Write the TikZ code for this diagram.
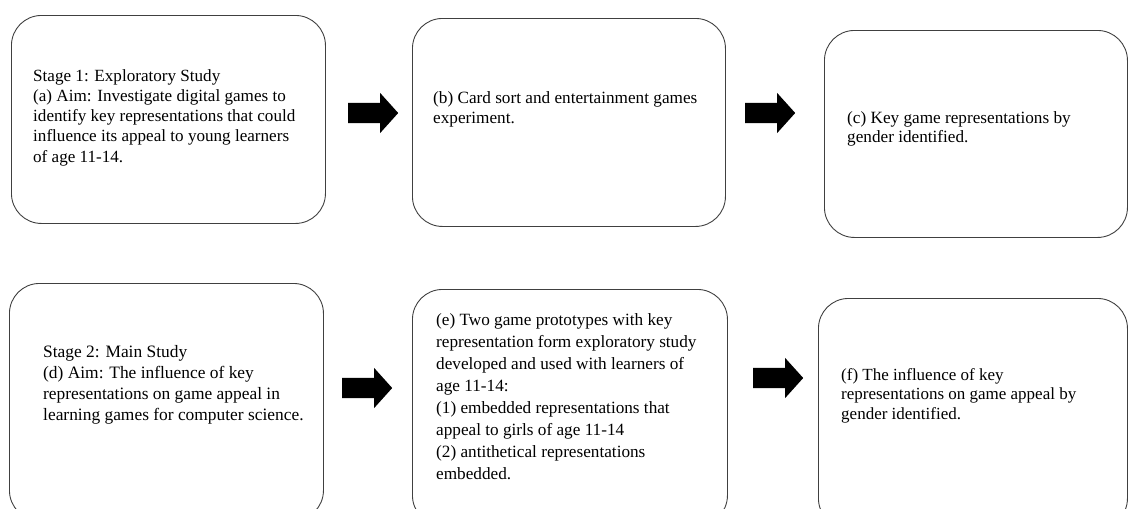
\documentclass[tikz,border=0pt]{standalone}
\usepackage{fontspec}
\setmainfont{Liberation Serif}
\usetikzlibrary{shapes.arrows, positioning}

\begin{document}
\begin{tikzpicture}[x=1pt, y=-1pt,
  box/.style={draw=black!75, line width=0.9pt, rounded corners=30pt, inner sep=0pt, anchor=north west},
  txt/.style={anchor=north west, align=left, inner sep=0pt},
  fatarrow/.style={single arrow, fill=black, draw=none, inner xsep=0pt, inner ysep=10pt,
    minimum height=50pt, single arrow head extend=10pt, single arrow tip angle=96, anchor=tail}]
  \useasboundingbox (0,0) rectangle (1128,509);
  \clip (0,0) rectangle (1128,509);

  % Stage 1
  \node[box, minimum width=314pt, minimum height=208pt] (a) at (11,15) {};
  \node[txt, font=\fontsize{17.1}{20.25}\selectfont] (ta) at (33,69) {Stage 1: Exploratory Study\\(a) Aim: Investigate digital games to\\identify key representations that could\\influence its appeal to young learners\\of age 11-14.};
  \node[box, minimum width=313pt, minimum height=208pt] (b) at (412,18) {};
  \node[txt, font=\fontsize{17.2}{20.5}\selectfont] (tb) at (433,91.1) {(b) Card sort and entertainment games\\experiment.};
  \node[box, minimum width=303pt, minimum height=207pt] (c) at (824,30) {};
  \node[txt, font=\fontsize{17.2}{19}\selectfont] (tc) at (847,111) {(c) Key game representations by\\gender identified.};

  % Stage 2
  \node[box, minimum width=314pt, minimum height=237pt] (d) at (9,283) {};
  \node[txt, font=\fontsize{17.4}{21.1}\selectfont] (td) at (43,345) {Stage 2: Main Study\\(d) Aim: The influence of key\\representations on game appeal in\\learning games for computer science.};
  \node[box, minimum width=315pt, minimum height=236pt] (e) at (412,289) {};
  \node[txt, font=\fontsize{17.2}{22.1}\selectfont] (te) at (436,313.1) {(e) Two game prototypes with key\\representation form exploratory study\\developed and used with learners of\\age 11-14:\\(1) embedded representations that\\appeal to girls of age 11-14\\(2) antithetical representations\\embedded.};
  \node[box, minimum width=309pt, minimum height=230pt] (f) at (818,298) {};
  \node[txt, font=\fontsize{17}{19.5}\selectfont] (tf) at (841,368) {(f) The influence of key\\representations on game appeal by\\gender identified.};

  % arrows
  \node[fatarrow] (ab) at (348,113) {};
  \node[fatarrow] (bc) at (745,113) {};
  \node[fatarrow] (de) at (342,388) {};
  \node[fatarrow] (ef) at (753,378) {};
\end{tikzpicture}
\end{document}
